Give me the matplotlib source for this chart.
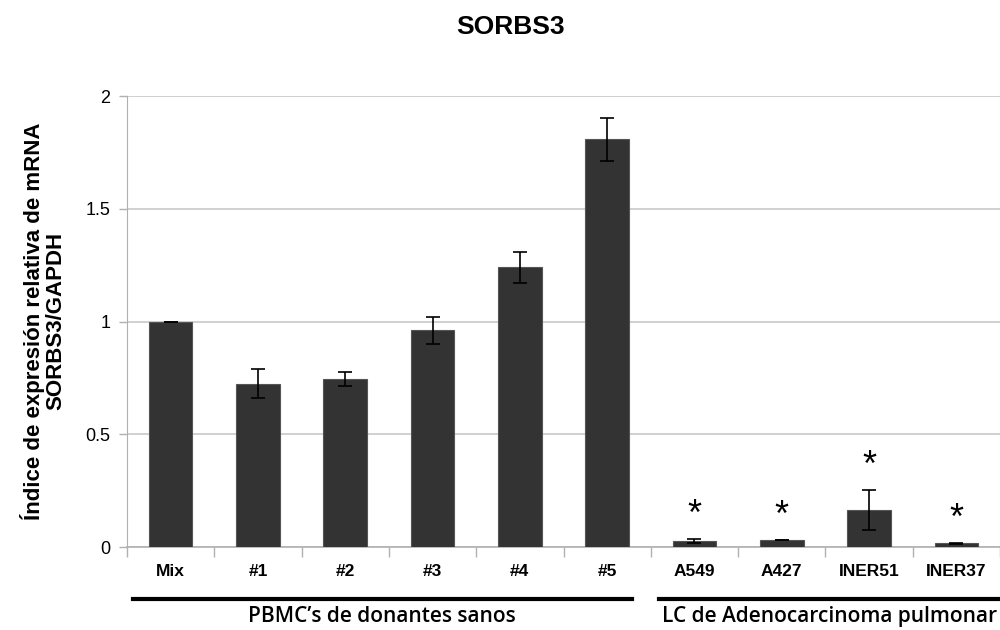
import matplotlib
matplotlib.use("Agg")
import matplotlib.pyplot as plt
import matplotlib.transforms as mtransforms
import numpy as np

plt.rcParams['font.family'] = ['Liberation Sans', 'DejaVu Sans']

labels = ['Mix', '#1', '#2', '#3', '#4', '#5', 'A549', 'A427', 'INER51', 'INER37']
values = [1.0, 0.725, 0.745, 0.962, 1.240, 1.808, 0.027, 0.031, 0.165, 0.016]
errors = [0.0, 0.066, 0.033, 0.060, 0.068, 0.095, 0.009, 0.002, 0.090, 0.004]
stars = [False, False, False, False, False, False, True, True, True, True]
groups = ["PBMC\u2019s de donantes sanos", "LC de Adenocarcinoma pulmonar"]
group_spans = [(-0.43, 5.28), (5.59, 9.5)]

fig = plt.figure(figsize=(10, 6.3), dpi=100)
ax = fig.add_axes([0.127, 0.1317, 0.873, 0.7159])

x = np.arange(len(labels))
ax.bar(x, values, width=0.5, color='#333333', edgecolor='#555555', linewidth=0.8, zorder=3)
ax.errorbar(x, values, yerr=errors, fmt='none', ecolor='black', elinewidth=1.2,
            capsize=5, capthick=1.2, zorder=4)

for xi, v, e, s in zip(x, values, errors, stars):
    if s:
        ax.text(xi, v + e + 0.025, '*', ha='center', va='bottom', fontsize=26, color='black')

ax.set_xlim(-0.5, 9.5)
ax.set_ylim(0, 2)
ax.set_yticks([0, 0.5, 1, 1.5, 2])
ax.set_yticklabels(['0', '0.5', '1', '1.5', '2'], fontsize=13)
ax.yaxis.grid(True, color='#c8c8c8', linewidth=1.2, zorder=0)
ax.set_xticks(x)
ax.set_xticklabels(labels, fontsize=12.5, fontweight='bold')
ax.set_xticks(np.arange(-0.5, 10, 1), minor=True)
ax.tick_params(axis='x', which='major', length=0, pad=12)
ax.tick_params(axis='x', which='minor', length=7, color='#b0b0b0', width=1)
ax.tick_params(axis='y', length=6, color='#b0b0b0', width=1, pad=6)

for side in ['top', 'right']:
    ax.spines[side].set_visible(False)
ax.spines['left'].set_color('#b0b0b0')
ax.spines['bottom'].set_color('#b0b0b0')
ax.spines['bottom'].set_linewidth(1.2)

trans = mtransforms.blended_transform_factory(ax.transData, ax.transAxes)
for name, (a, b) in zip(groups, group_spans):
    ax.plot([a, b], [-0.115, -0.115], color='black', linewidth=3, transform=trans, clip_on=False)
    ax.text((a + b) / 2, -0.154, name, transform=trans, ha='center', va='center',
            fontsize=15, family=['Open Sans', 'DejaVu Sans'], fontweight='semibold')

fig.text(0.043, 0.49, "\u00cdndice de expresi\u00f3n relativa de mRNA\nSORBS3/GAPDH",
         rotation=90, ha='center', va='center', fontsize=16, fontweight='bold',
         multialignment='center', linespacing=1.0)
fig.text(0.511, 1 - 27 / 630, 'SORBS3', ha='center', va='center', fontsize=19,
         fontweight='bold')

fig.savefig('out.png', dpi=100)
